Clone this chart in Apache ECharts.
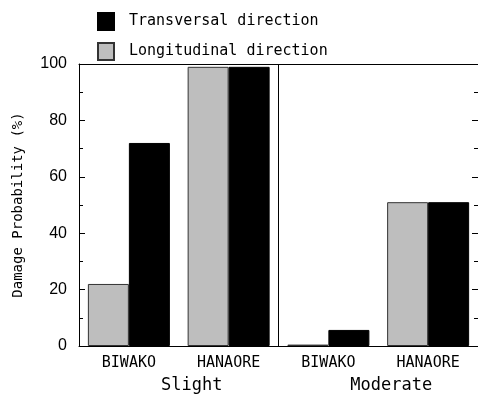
<!DOCTYPE html>
<html>
<head>
<meta charset="utf-8">
<style>
  html, body { margin: 0; padding: 0; background: #ffffff; }
  #chart { width: 478px; height: 396px; }
</style>
<script src="https://cdn.jsdelivr.net/npm/echarts@6/dist/echarts.min.js"></script>
</head>
<body>
<div id="chart"></div>
<script>
// Site categories and damage levels
const sites = ['BIWAKO', 'HANAORE', 'BIWAKO', 'HANAORE'];
const levels = ['Slight', 'Moderate'];

// Damage probability (%) per direction
const longitudinal = [22, 99, 0.5, 51];
const transversal = [72, 99, 5.7, 51];

const yTicks = { min: 0, max: 100, interval: 20 };

const monoFont = '"DejaVu Sans Mono", "Liberation Mono", monospace';
const numFont = '"Liberation Sans", Arial, sans-serif';

const chart = echarts.init(document.getElementById('chart'), null, { renderer: 'canvas' });

const axisLineStyle = { color: '#000', width: 1 };

chart.setOption({
  backgroundColor: '#ffffff',
  animation: false,
  legend: {
    data: [
      { name: 'Transversal direction', icon: 'rect' },
      { name: 'Longitudinal direction', icon: 'rect' }
    ],
    orient: 'vertical',
    left: 97,
    top: 12,
    padding: 0,
    itemWidth: 16,
    itemHeight: 17,
    itemGap: 11,
    textStyle: { fontFamily: monoFont, fontSize: 15, color: '#000', padding: [0, 0, 0, 10] }
  },
  grid: { left: 79, top: 64, width: 399, height: 282, containLabel: false },
  xAxis: [
    {
      type: 'category',
      data: sites,
      position: 'bottom',
      axisLine: { lineStyle: axisLineStyle },
      axisTick: { inside: true, length: 6, lineStyle: axisLineStyle },
      axisLabel: { fontFamily: monoFont, fontSize: 15, color: '#000', margin: 10 },
      splitLine: { show: false }
    },
    {
      type: 'category',
      data: levels,
      position: 'bottom',
      axisLine: { show: false },
      axisTick: { show: false },
      axisLabel: { fontFamily: monoFont, fontSize: 17, color: '#000', margin: 31, padding: [0, 0, 0, 26] },
      splitLine: { show: true, lineStyle: { color: '#000', width: 1 } }
    },
    {
      type: 'category',
      data: sites,
      position: 'top',
      axisLine: { lineStyle: axisLineStyle },
      axisTick: { inside: true, length: 6, lineStyle: axisLineStyle },
      axisLabel: { show: false }
    }
  ],
  yAxis: [
    {
      type: 'value',
      min: yTicks.min,
      max: yTicks.max,
      interval: yTicks.interval,
      position: 'left',
      name: 'Damage Probability (%)',
      nameLocation: 'middle',
      nameGap: 54,
      nameTextStyle: { fontFamily: monoFont, fontSize: 14, color: '#000' },
      axisLine: { show: true, lineStyle: axisLineStyle },
      axisTick: { show: true, inside: true, length: 6, lineStyle: axisLineStyle },
      minorTick: { show: true, splitNumber: 2, length: 4, lineStyle: axisLineStyle },
      axisLabel: { fontFamily: numFont, fontSize: 16, color: '#000', margin: 12 },
      splitLine: { show: false }
    },
    {
      type: 'value',
      min: yTicks.min,
      max: yTicks.max,
      interval: yTicks.interval,
      position: 'right',
      axisLine: { show: true, lineStyle: axisLineStyle },
      axisTick: { show: true, inside: true, length: 6, lineStyle: axisLineStyle },
      minorTick: { show: true, splitNumber: 2, length: 4, lineStyle: axisLineStyle },
      axisLabel: { show: false },
      splitLine: { show: false }
    }
  ],
  series: [
    {
      name: 'Longitudinal direction',
      type: 'bar',
      data: longitudinal,
      barWidth: 41,
      barGap: '0%',
      itemStyle: { color: '#bebebe', borderColor: '#333', borderWidth: 1 }
    },
    {
      name: 'Transversal direction',
      type: 'bar',
      data: transversal,
      barWidth: 41,
      barGap: '0%',
      itemStyle: { color: '#000', borderColor: '#000', borderWidth: 1 }
    }
  ]
});
</script>
</body>
</html>
